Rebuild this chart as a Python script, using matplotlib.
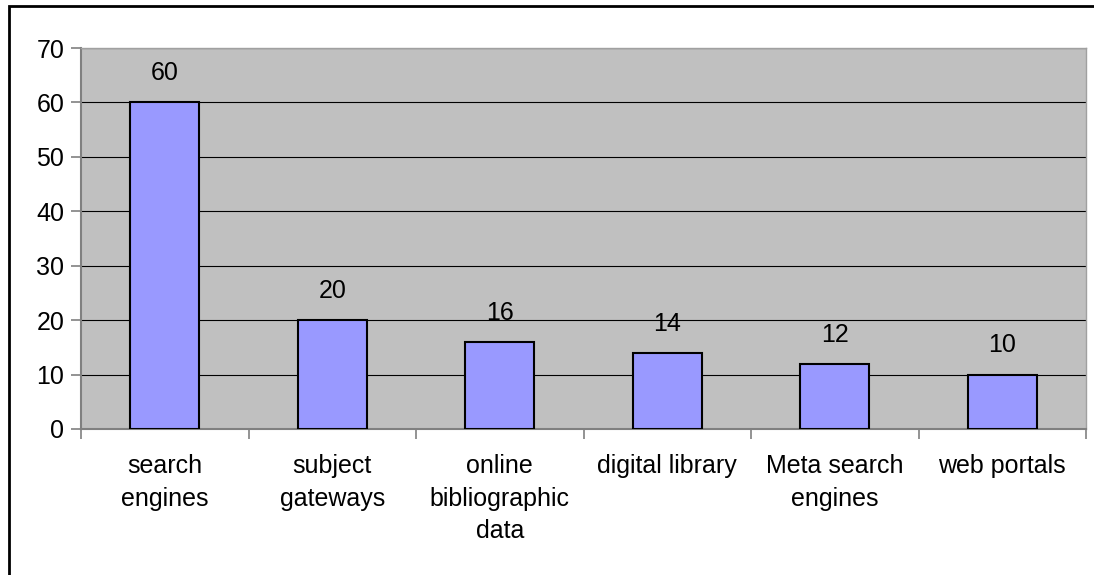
import matplotlib
matplotlib.use("Agg")
import matplotlib.pyplot as plt
from matplotlib.patches import Rectangle
import numpy as np

plt.rcParams['font.family'] = ['Liberation Sans', 'DejaVu Sans']

categories = ["search\nengines", "subject\ngateways", "online\nbibliographic\ndata",
              "digital library", "Meta search\nengines", "web portals"]
counts = [60, 20, 16, 14, 12, 10]
y_ticks = [0, 10, 20, 30, 40, 50, 60, 70]

fig = plt.figure(figsize=(10.94, 5.75), dpi=100)
# chart frame, only its top and left edges fall inside the image
fig.patches.append(Rectangle((9 / 1094, -10 / 575), 1100 / 1094, 579 / 575,
                             transform=fig.transFigure, fill=False,
                             edgecolor="black", linewidth=2))

ax = fig.add_axes([81 / 1094, 146 / 575, 1005 / 1094, 381 / 575])
ax.set_facecolor("#C0C0C0")

x = np.arange(len(categories))
ax.bar(x, counts, width=0.41, color="#9999FF", edgecolor="black", linewidth=1.5, zorder=3)
for xi, v in zip(x, counts):
    ax.annotate(str(v), (xi, v), xytext=(0, 21), textcoords="offset points",
                ha="center", va="center", fontsize=18)

ax.set_xlim(-0.5, len(categories) - 0.5)
ax.set_ylim(0, 70)
ax.set_yticks(y_ticks)
ax.yaxis.grid(True, color="black", linewidth=0.8, zorder=1)
ax.set_axisbelow(True)

ax.set_xticks(x)
ax.set_xticklabels(categories, fontsize=18, linespacing=1.45, va="top")
ax.set_xticks(np.arange(len(categories) + 1) - 0.5, minor=True)
ax.tick_params(axis="x", which="major", length=0, pad=18)
ax.tick_params(axis="x", which="minor", length=7, color="#808080", width=1.2)
ax.tick_params(axis="y", labelsize=18, length=7, color="#808080", width=1.2, pad=5)

for side in ["left", "bottom"]:
    ax.spines[side].set_color("#808080")
    ax.spines[side].set_linewidth(1.5)
for side in ["top", "right"]:
    ax.spines[side].set_color("#A0A0A0")
    ax.spines[side].set_linewidth(1)

fig.savefig("out.png", dpi=100)
